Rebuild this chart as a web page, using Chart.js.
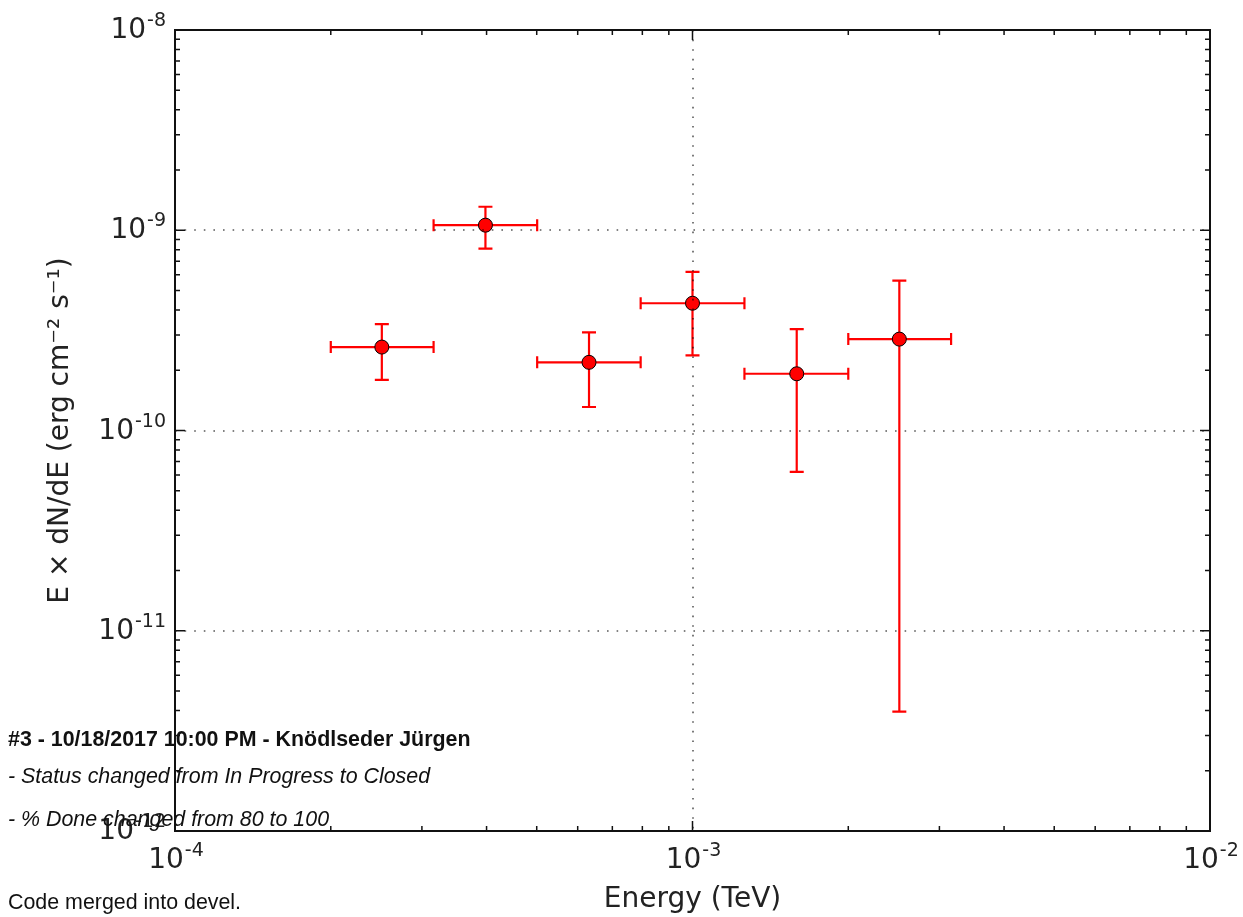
<!DOCTYPE html>
<html>
<head>
<meta charset="utf-8">
<script src="https://cdn.jsdelivr.net/npm/chart.js@4.4.0/dist/chart.umd.min.js"></script>
<style>
body{margin:0;background:#fff;}
#wrap{position:relative;width:1243px;height:917px;}
.note{position:absolute;left:8px;font-family:"Liberation Sans",Arial,sans-serif;font-size:21.4px;line-height:21px;color:#111;white-space:nowrap;}
</style>
</head>
<body>
<div id="wrap">
<canvas id="sed" width="1243" height="917"></canvas>
<div class="note" style="top:729px;font-weight:bold">#3 - 10/18/2017 10:00 PM - Knödlseder Jürgen</div>
<div class="note" style="top:766px;font-style:italic">- Status changed from In Progress to Closed</div>
<div class="note" style="top:809px;font-style:italic">- % Done changed from 80 to 100</div>
<div class="note" style="top:892px">Code merged into devel.</div>
</div>
<script>
// spectral points (TeV, erg cm-2 s-1)
const energy = [2.51e-4, 3.98e-4, 6.31e-4, 1.0e-3, 1.59e-3, 2.51e-3];
const eMin   = [2.0e-4, 3.16e-4, 5.01e-4, 7.94e-4, 1.26e-3, 2.0e-3];
const eMax   = [3.16e-4, 5.01e-4, 7.94e-4, 1.26e-3, 2.0e-3, 3.16e-3];
const flux   = [2.61e-10, 1.06e-9, 2.19e-10, 4.32e-10, 1.92e-10, 2.86e-10];
const fluxHi = [3.40e-10, 1.31e-9, 3.09e-10, 6.19e-10, 3.21e-10, 5.6e-10];
const fluxLo = [1.79e-10, 8.09e-10, 1.31e-10, 2.37e-10, 6.21e-11, 3.95e-12];

// axis decades
const xDecades = [1e-4, 1e-3, 1e-2];
const yDecades = [1e-12, 1e-11, 1e-10, 1e-9, 1e-8];

const FONT = '"DejaVu Sans", "Bitstream Vera Sans", sans-serif';

function minorsOf(decades){
    const out = [];
    for(let i=0;i<decades.length-1;i++){
        for(let k=2;k<=9;k++) out.push(decades[i]*k);
    }
    return out;
}

// "10" with a raised exponent, like matplotlib mathtext
function drawPow(ctx, exp, x, y, align){
    ctx.font = '28px ' + FONT;
    const wb = ctx.measureText('10').width;
    ctx.font = '19px ' + FONT;
    const we = ctx.measureText(exp).width + 1;
    let left = x;
    if(align==='right') left = x - wb - we;
    if(align==='center') left = x - (wb + we)/2;
    ctx.fillStyle = '#222';
    ctx.textBaseline = 'alphabetic';
    ctx.textAlign = 'left';
    ctx.font = '28px ' + FONT;
    ctx.fillText('10', left, y);
    ctx.font = '19px ' + FONT;
    ctx.fillText(exp, left + wb + 1, y - 12);
}

const errorBars = {
    id:'errorBars',
    beforeDatasetsDraw(chart){
        const {ctx, scales:{x, y}} = chart;
        ctx.save();
        ctx.strokeStyle = '#ff0000';
        ctx.lineWidth = 2.2;
        for(let i=0;i<energy.length;i++){
            const px = x.getPixelForValue(energy[i]);
            const py = y.getPixelForValue(flux[i]);
            const x0 = x.getPixelForValue(eMin[i]), x1 = x.getPixelForValue(eMax[i]);
            const y0 = y.getPixelForValue(fluxLo[i]), y1 = y.getPixelForValue(fluxHi[i]);
            ctx.beginPath();
            ctx.moveTo(x0, py); ctx.lineTo(x1, py);
            ctx.moveTo(x0, py-6); ctx.lineTo(x0, py+6);
            ctx.moveTo(x1, py-6); ctx.lineTo(x1, py+6);
            ctx.moveTo(px, y0); ctx.lineTo(px, y1);
            ctx.moveTo(px-7, y0); ctx.lineTo(px+7, y0);
            ctx.moveTo(px-7, y1); ctx.lineTo(px+7, y1);
            ctx.stroke();
        }
        ctx.restore();
    }
};

const frame = {
    id:'frame',
    afterDatasetsDraw(chart){
        const {ctx, chartArea:a, scales:{x, y}} = chart;
        ctx.save();
        // dotted grid at the decades
        ctx.strokeStyle = 'rgba(0,0,0,0.65)';
        ctx.lineWidth = 1.6;
        ctx.setLineDash([1.6, 8]);
        ctx.beginPath();
        xDecades.forEach(v=>{
            const px = Math.round(x.getPixelForValue(v));
            if(px<=a.left+1 || px>=a.right-1) return;
            ctx.moveTo(px, a.top); ctx.lineTo(px, a.bottom);
        });
        yDecades.forEach(v=>{
            const py = Math.round(y.getPixelForValue(v));
            if(py<=a.top+1 || py>=a.bottom-1) return;
            ctx.moveTo(a.left, py); ctx.lineTo(a.right, py);
        });
        ctx.stroke();
        ctx.setLineDash([]);

        // inward ticks on all four sides
        ctx.strokeStyle = '#111';
        ctx.lineWidth = 1.5;
        ctx.beginPath();
        const tickX = (v, len)=>{
            const px = x.getPixelForValue(v);
            ctx.moveTo(px, a.bottom); ctx.lineTo(px, a.bottom-len);
            ctx.moveTo(px, a.top); ctx.lineTo(px, a.top+len);
        };
        const tickY = (v, len)=>{
            const py = y.getPixelForValue(v);
            ctx.moveTo(a.left, py); ctx.lineTo(a.left+len, py);
            ctx.moveTo(a.right, py); ctx.lineTo(a.right-len, py);
        };
        xDecades.forEach(v=>tickX(v, 10));
        minorsOf(xDecades).forEach(v=>tickX(v, 5));
        yDecades.forEach(v=>tickY(v, 10));
        minorsOf(yDecades).forEach(v=>tickY(v, 5));
        ctx.stroke();

        // box
        ctx.strokeStyle = '#111';
        ctx.lineWidth = 2;
        ctx.strokeRect(a.left, a.top, a.right-a.left, a.bottom-a.top);

        // tick labels
        xDecades.forEach(v=>{
            drawPow(ctx, String(Math.round(Math.log10(v))), x.getPixelForValue(v)+1, a.bottom+37, 'center');
        });
        yDecades.forEach(v=>{
            drawPow(ctx, String(Math.round(Math.log10(v))), a.left-9, y.getPixelForValue(v)+8, 'right');
        });
        ctx.restore();
    }
};

new Chart(document.getElementById('sed'), {
    type:'scatter',
    data:{
        datasets:[{
            label:'SED',
            data: energy.map((e,i)=>({x:e, y:flux[i]})),
            pointRadius:7,
            pointHoverRadius:7,
            backgroundColor:'#ff0000',
            borderColor:'#000',
            borderWidth:1
        }]
    },
    options:{
        responsive:false,
        animation:false,
        layout:{padding:{top:30, right:33, left:0, bottom:0}},
        plugins:{legend:{display:false}, tooltip:{enabled:false}},
        scales:{
            x:{
                type:'logarithmic',
                min:1e-4, max:1e-2,
                grid:{display:false},
                border:{display:false},
                ticks:{display:false},
                title:{display:true, text:'Energy (TeV)', color:'#222',
                       font:{family:FONT, size:28}, padding:{top:0, bottom:0}},
                afterFit(scale){ scale.height = 86; }
            },
            y:{
                type:'logarithmic',
                min:1e-12, max:1e-8,
                grid:{display:false},
                border:{display:false},
                ticks:{display:false},
                title:{display:true, text:'E \u00d7 dN/dE (erg cm\u207b\u00b2 s\u207b\u00b9)', color:'#222',
                       font:{family:FONT, size:28}, padding:{top:44, bottom:0}},
                afterFit(scale){ scale.width = 175; }
            }
        }
    },
    plugins:[errorBars, frame]
});
</script>
</body>
</html>
